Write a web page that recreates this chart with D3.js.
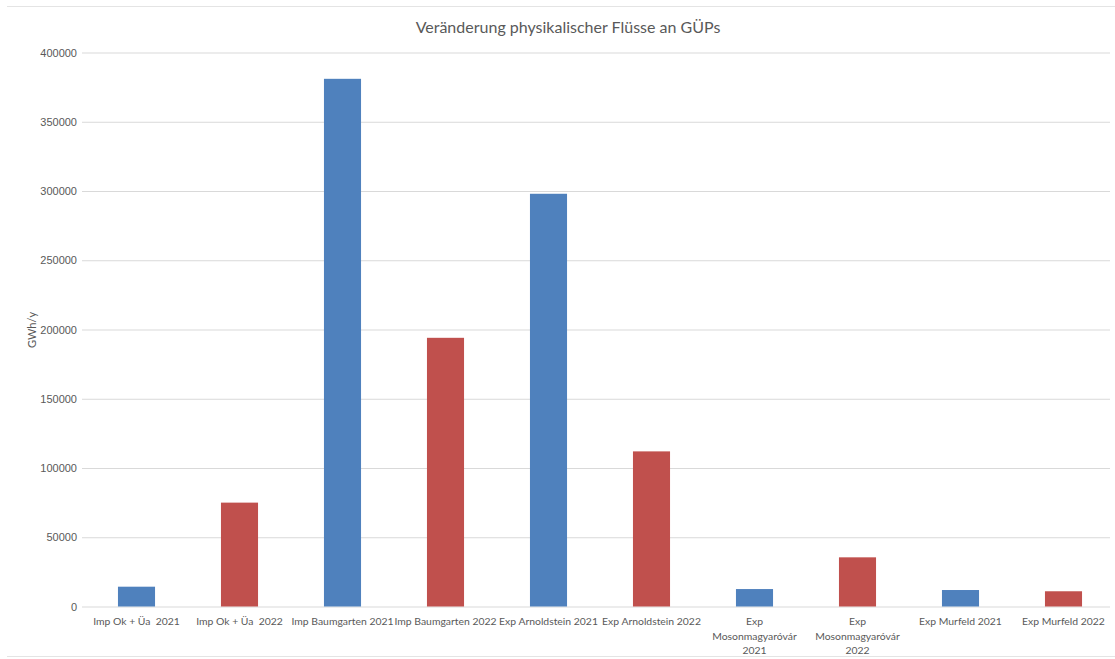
<!DOCTYPE html>
<html>
<head>
<meta charset="utf-8">
<script src="https://cdn.jsdelivr.net/npm/d3@7"></script>
<style>
  body { margin: 0; background: #fff; }
  svg { display: block; font-family: Lato, "Open Sans", sans-serif; }
</style>
</head>
<body>
<svg id="chart" width="1115" height="659"></svg>
<script>
// Physical flows at gas entry/exit points (GWh/y)
const categories = [
  "Imp Ok + Üa  2021",
  "Imp Ok + Üa  2022",
  "Imp Baumgarten 2021",
  "Imp Baumgarten 2022",
  "Exp Arnoldstein 2021",
  "Exp Arnoldstein 2022",
  "Exp Mosonmagyaróvár 2021",
  "Exp Mosonmagyaróvár 2022",
  "Exp Murfeld 2021",
  "Exp Murfeld 2022"
];
const values = [14300, 75000, 381000, 194000, 298000, 112000, 12600, 35500, 11900, 11000];
const years = ["2021", "2022", "2021", "2022", "2021", "2022", "2021", "2022", "2021", "2022"];
const yTicks = [0, 50000, 100000, 150000, 200000, 250000, 300000, 350000, 400000];

const yearColor = { "2021": "#4f81bd", "2022": "#c0504d" };

const svg = d3.select("#chart");
const margin = { left: 85, right: 0, top: 52.5, bottom: 52.5 };
const W = 1115, H = 659;

// top and bottom frame lines of the chart area
svg.append("g").selectAll("line")
  .data([6.5, 656.5])
  .join("line")
  .attr("x1", 7).attr("x2", W)
  .attr("y1", d => d).attr("y2", d => d)
  .attr("stroke", "#e4e4e4");

const x = d3.scaleBand()
  .domain(categories)
  .range([margin.left, W - margin.right])
  .paddingInner(0.64)
  .paddingOuter(0.32);

const y = d3.scaleLinear()
  .domain([0, 400000])
  .range([606.5, margin.top]);

// gridlines + y labels
const yAxis = d3.axisLeft(y)
  .tickValues(yTicks)
  .tickSize(-(W - margin.left - 2))
  .tickPadding(5)
  .tickFormat(d3.format("d"));

const gy = svg.append("g")
  .attr("transform", `translate(${margin.left - 3},0)`)
  .call(yAxis);
gy.select(".domain").remove();
gy.selectAll(".tick line").attr("stroke", "#d9d9d9").attr("stroke-width", 1);
gy.selectAll(".tick text")
  .attr("fill", "#595959")
  .style("font-size", "11px");

// bars
svg.append("g").selectAll("rect")
  .data(categories)
  .join("rect")
  .attr("x", d => x(d))
  .attr("width", x.bandwidth())
  .attr("y", (d, i) => y(values[i]))
  .attr("height", (d, i) => y(0) - y(values[i]))
  .attr("fill", (d, i) => yearColor[years[i]]);

// category labels, wrapped to the band width
const maxLabelWidth = 112;
const gx = svg.append("g");
categories.forEach(c => {
  const t = gx.append("text")
    .attr("x", x(c) + x.bandwidth() / 2)
    .attr("y", 625)
    .attr("text-anchor", "middle")
    .attr("fill", "#595959")
    .style("font-size", "10.4px")
    .style("white-space", "pre")
    .text(c);
  if (t.node().getComputedTextLength() > maxLabelWidth) {
    const words = c.split(" ");
    t.text(null);
    words.forEach((w, k) => {
      t.append("tspan")
        .attr("x", x(c) + x.bandwidth() / 2)
        .attr("dy", k === 0 ? 0 : 14.5)
        .text(w);
    });
  }
});

// title
svg.append("text")
  .attr("x", 568)
  .attr("y", 33)
  .attr("text-anchor", "middle")
  .attr("fill", "#595959")
  .style("font-size", "16px")
  .text("Veränderung physikalischer Flüsse an GÜPs");

// y-axis title
svg.append("text")
  .attr("transform", "translate(36,330) rotate(-90)")
  .attr("text-anchor", "middle")
  .attr("fill", "#595959")
  .style("font-size", "11px")
  .text("GWh/y");
</script>
</body>
</html>
